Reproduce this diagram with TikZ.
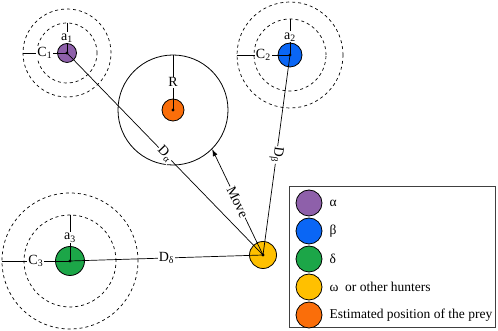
\documentclass[tikz,border=0pt]{standalone}
\usepackage{fontspec}
\setmainfont{Liberation Serif}
\usetikzlibrary{arrows.meta, positioning}

\definecolor{alphacol}{RGB}{142,96,170}
\definecolor{betacol}{RGB}{10,102,245}
\definecolor{deltacol}{RGB}{28,166,72}
\definecolor{omegacol}{RGB}{255,192,0}
\definecolor{preycol}{RGB}{250,110,10}

\begin{document}
\begin{tikzpicture}[x=1pt, y=1pt,
    hunter/.style={circle, draw, line width=0.8pt, inner sep=0pt},
    zone/.style={circle, draw, dashed, line width=0.7pt, inner sep=0pt},
    link/.style={line width=0.7pt},
    lbl/.style={fill=white, inner sep=1pt, font=\fontsize{14}{16}\selectfont},
    keytext/.style={inner sep=1pt, font=\fontsize{13.5}{16}\selectfont}]
  \useasboundingbox (0,0) rectangle (498,331);

  % Search areas round the three leaders
  \node[zone, minimum size=88pt] (alphaout) at (67,278) {};
  \node[zone, minimum size=60pt] (alphain) at (67,278) {};
  \node[zone, minimum size=106pt] (betaout) at (290,276) {};
  \node[zone, minimum size=72pt] (betain) at (290,276) {};
  \node[zone, minimum size=136pt] (deltaout) at (70,70) {};
  \node[zone, minimum size=92pt] (deltain) at (70,70) {};

  % Area of the prey
  \node[hunter, minimum size=110pt] (preyzone) at (173,221) {};

  % Hunters and prey
  \node[hunter, fill=alphacol, minimum size=19pt] (alpha) at (67,278) {};
  \node[hunter, fill=betacol, minimum size=24pt] (beta) at (290,276) {};
  \node[hunter, fill=deltacol, minimum size=29pt] (delta) at (70,70) {};
  \node[hunter, fill=omegacol, minimum size=27pt] (omega) at (263,76) {};
  \node[hunter, fill=preycol, minimum size=22pt] (prey) at (173,221) {};

  % Distances to the omega hunter
  \draw[link] (alpha.center) -- node[lbl, sloped] {D\textsubscript{α}} (omega.center);
  \draw[link] (beta.center) -- node[lbl, sloped, allow upside down] {D\textsubscript{β}} (omega.center);
  \draw[link] (delta.center) -- node[lbl] {D\textsubscript{δ}} (omega.center);
  \draw[link, -{Latex[length=7pt, width=5pt]}] (omega.center) -- node[lbl, sloped] {Move} (preyzone.-45);

  % Radii
  \draw[link] (preyzone.north) -- node[lbl] {R} (prey.center);
  \draw[link] (alphain.north) -- node[lbl] {a\textsubscript{1}} (alpha.center);
  \draw[link] (alphaout.west) -- node[lbl] {C\textsubscript{1}} (alpha.center);
  \draw[link] (betain.north) -- node[lbl] {a\textsubscript{2}} (beta.center);
  \draw[link] (betaout.west) -- node[lbl] {C\textsubscript{2}} (beta.center);
  \draw[link] (deltain.north) -- node[lbl] {a\textsubscript{3}} (delta.center);
  \draw[link] (deltaout.west) -- node[lbl] {C\textsubscript{3}} (delta.center);

  % Centre points
  \foreach \who in {alpha, beta, delta, omega, prey}
    \fill (\who.center) circle (1.6pt);

  % Legend
  \node[draw=black!75, line width=1pt, minimum width=206pt, minimum height=141pt,
        inner sep=0pt, anchor=south west] (legend) at (289,3) {};
  \foreach \col/\txt [count=\i] in {alphacol/α, betacol/β, deltacol/δ,
      omegacol/ω~ or other hunters, preycol/Estimated position of the prey} {
    \node[hunter, fill=\col, minimum size=26pt] (key\i) at (309,156-28*\i) {};
    \node[keytext, right=6pt of key\i] (keytext\i) {\txt};
  }
\end{tikzpicture}
\end{document}
